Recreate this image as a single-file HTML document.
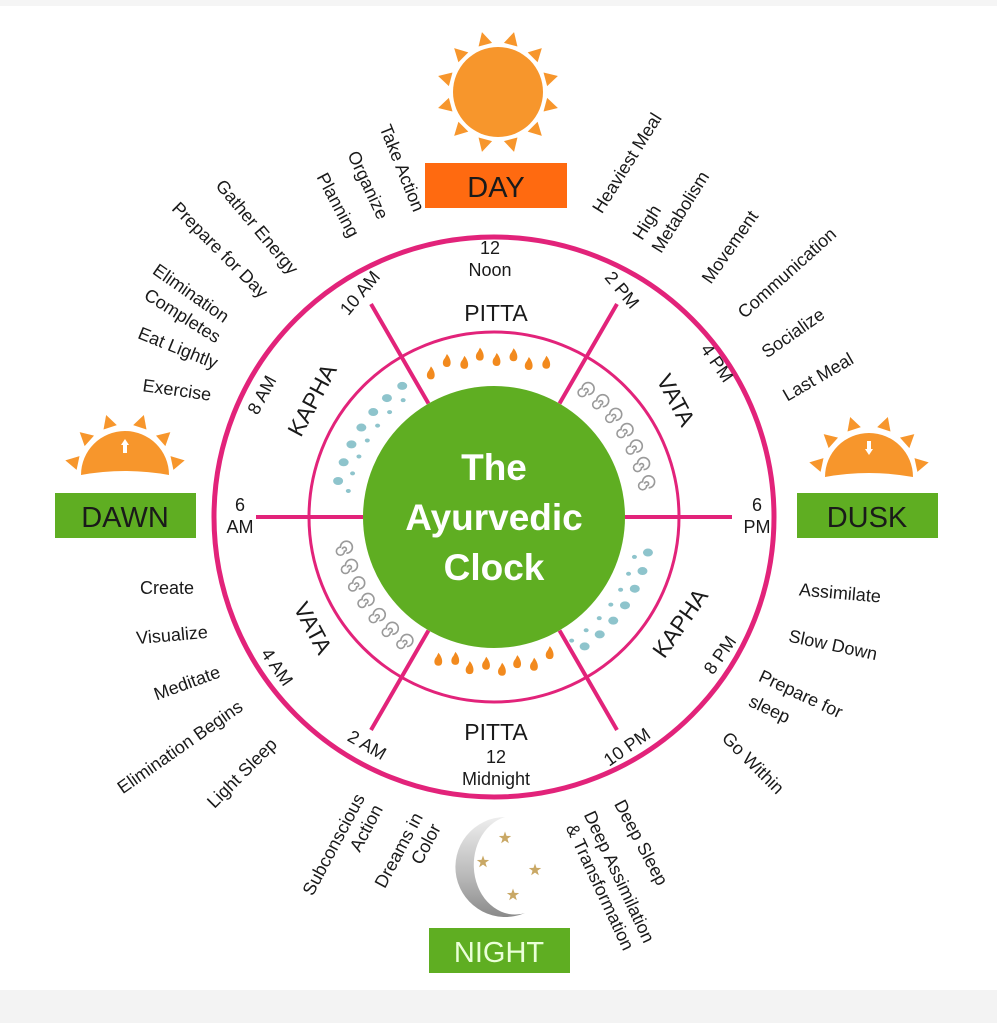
<!DOCTYPE html>
<html><head><meta charset="utf-8"><style>
html,body{margin:0;padding:0;background:#fff;}
svg{display:block;}
text{font-family:"Liberation Sans",sans-serif;fill:#1a1a1a;}
</style></head><body>
<svg id="s" width="997" height="1023" viewBox="0 0 997 1023" xmlns="http://www.w3.org/2000/svg">
<rect x="0" y="0" width="997" height="1023" fill="#fff"/>
<rect x="0" y="0" width="997" height="6" fill="#f5f5f5"/>
<rect x="0" y="990" width="997" height="33" fill="#f3f3f3"/>
<g id="icons"></g>
<circle cx="494" cy="517" r="280" fill="none" stroke="#e2237a" stroke-width="5"/>
<circle cx="494" cy="517" r="185" fill="none" stroke="#e2237a" stroke-width="3"/>
<g id="spokes" stroke="#e2237a" stroke-width="4"></g>
<circle cx="494" cy="517" r="131" fill="#5fae22"/>
<text x="494" y="480" text-anchor="middle" font-size="37" font-weight="bold" style="fill:#fff">The</text>
<text x="494" y="530" text-anchor="middle" font-size="37" font-weight="bold" style="fill:#fff">Ayurvedic</text>
<text x="494" y="580" text-anchor="middle" font-size="37" font-weight="bold" style="fill:#fff">Clock</text>

<rect x="425" y="163" width="142" height="45" fill="#ff6a10"/>
<text x="496" y="197" text-anchor="middle" font-size="29">DAY</text>
<rect x="55" y="493" width="141" height="45" fill="#5fae22"/>
<text x="125" y="527" text-anchor="middle" font-size="29">DAWN</text>
<rect x="797" y="493" width="141" height="45" fill="#5fae22"/>
<text x="867" y="527" text-anchor="middle" font-size="29">DUSK</text>
<rect x="429" y="928" width="141" height="45" fill="#5fae22"/>
<text x="499" y="962" text-anchor="middle" font-size="29" style="fill:#eaffd8">NIGHT</text>

<g id="labels" font-size="18"></g>
</svg>
<script>
var NS="http://www.w3.org/2000/svg",cx=494,cy=517;
function el(t,a,p){var e=document.createElementNS(NS,t);for(var k in a)e.setAttribute(k,a[k]);(p||document.getElementById('icons')).appendChild(e);return e;}
var sp=document.getElementById('spokes');
[[30,131,246],[150,131,246],[210,131,246],[330,131,246],[90,131,238],[270,131,238]].forEach(function(s){
 var a=s[0]*Math.PI/180,sx=Math.sin(a),cy_=-Math.cos(a);
 el('line',{x1:cx+sx*s[1],y1:cy+cy_*s[1],x2:cx+sx*s[2],y2:cy+cy_*s[2]},sp);});
function rays(x,y,r,angs){angs.forEach(function(d){var a=d*Math.PI/180,s=Math.sin(a),c=-Math.cos(a),px=-c,py=s;
 var b1=r+4,b2=r+17,w=7;
 el('polygon',{points:(x+s*b1+px*w)+','+(y+c*b1+py*w)+' '+(x+s*b1-px*w)+','+(y+c*b1-py*w)+' '+(x+s*b2)+','+(y+c*b2),fill:'#f7962c'});});}
el('circle',{cx:498,cy:92,r:45,fill:'#f7962c'});
var a=[];for(var i=0;i<12;i++)a.push(i*30+15);rays(498,92,45,a);
[[125,475,'up'],[869,477,'down']].forEach(function(h){
 el('path',{d:'M'+(h[0]-44)+','+h[1]+' A44,44 0 0 1 '+(h[0]+44)+','+h[1]+' Q'+h[0]+','+(h[1]-8)+' '+(h[0]-44)+','+h[1]+'Z',fill:'#f7962c'});
 rays(h[0],h[1]-2,44,[-78,-48,-18,18,48,78]);
 if(h[2]=='up'){el('polygon',{points:(h[0]-4)+','+(h[1]-30)+' '+(h[0]+4)+','+(h[1]-30)+' '+h[0]+','+(h[1]-36),fill:'#fff'});el('rect',{x:h[0]-2,y:h[1]-31,width:4,height:9,fill:'#fff'});}
 else{el('rect',{x:h[0]-2,y:h[1]-36,width:4,height:9,fill:'#fff'});el('polygon',{points:(h[0]-4)+','+(h[1]-28)+' '+(h[0]+4)+','+(h[1]-28)+' '+h[0]+','+(h[1]-22),fill:'#fff'});}
});
var g=el('linearGradient',{id:'mg',x1:0,y1:0,x2:0,y2:1});
el('stop',{offset:0,'stop-color':'#eeeeee'},g);el('stop',{offset:0.6,'stop-color':'#b8b8b8'},g);el('stop',{offset:1,'stop-color':'#8a8a8a'},g);
el('path',{d:'M505,817 A50,50 0 1 0 525,913 A40,48 0 1 1 505,817 Z',fill:'url(#mg)'});
[[505,838],[483,862],[535,870],[513,895]].forEach(function(p){
 var pts=[];for(var i=0;i<10;i++){var r=i%2?2.6:6.5,a=i*Math.PI/5;pts.push((p[0]+r*Math.sin(a))+','+(p[1]-r*Math.cos(a)));}
 el('polygon',{points:pts.join(' '),fill:'#c9a865'});});
function flame(x,y){el('path',{d:'M'+x+','+(y-9)+' C'+(x+5)+','+(y-3)+' '+(x+5)+','+(y+4)+' '+x+','+(y+4)+' C'+(x-5)+','+(y+4)+' '+(x-5)+','+(y-2)+' '+(x-2)+','+(y-5)+' Z',fill:'#f28a1e'});}
[-24,-17,-11,-5,1,7,13,19].forEach(function(d,i){var r=158+(i%2?3:-3),a=d*Math.PI/180;flame(cx+r*Math.sin(a),cy-r*Math.cos(a));});
[-22,-15,-9,-3,3,9,15,21].forEach(function(d,i){var r=152+(i%2?3:-3),a=(180+d)*Math.PI/180;flame(cx+r*Math.sin(a),cy-r*Math.cos(a));});
function drop(x,y,s){el('ellipse',{cx:x,cy:y,rx:5*s,ry:4*s,fill:'#8ec4cc'});}
[-35,-42,-49,-56,-63,-70,-77].forEach(function(d,i){var a=d*Math.PI/180,r=160;drop(cx+r*Math.sin(a),cy-r*Math.cos(a),1);
 var r2=148;drop(cx+r2*Math.sin(a-0.05),cy-r2*Math.cos(a-0.05),0.5);});
[145,138,131,124,117,110,103].forEach(function(d,i){var a=d*Math.PI/180,r=158;drop(cx+r*Math.sin(a),cy-r*Math.cos(a),1);
 var r2=146;drop(cx+r2*Math.sin(a+0.05),cy-r2*Math.cos(a+0.05),0.5);});
function swirl(x,y){el('path',{d:'M'+x+','+y+' m0,0 a2,2 0 1 1 2,2 a4,4 0 1 1 -4,-4 a6,6 0 1 1 6,6',fill:'none',stroke:'#9a9a9a','stroke-width':1.6});}
[36,43,50,57,64,71,78].forEach(function(d){var a=d*Math.PI/180,r=155;swirl(cx+r*Math.sin(a)-1,cy-r*Math.cos(a)-1);});
[-102,-109,-116,-123,-130,-137,-144].forEach(function(d){var a=d*Math.PI/180;var r=155;swirl(cx+r*Math.sin(a),cy-r*Math.cos(a));});
var L=document.getElementById('labels');
function t(s,x,y,r,fs,anc){var e=el('text',{x:0,y:0,'text-anchor':anc||'middle','dominant-baseline':'central',transform:'translate('+x+','+y+') rotate('+r+')'},L);if(fs)e.setAttribute('font-size',fs);e.textContent=s;}
[["Take Action",402,168,68],["Organize",368,185,65],["Planning",338,205,62],["Gather Energy",257,227,50],["Prepare for Day",220,250,45],
["Eat Lightly",178,348,22],["Exercise",177,390,8],
["Heaviest Meal",627,163,-58],["Movement",730,247,-55],["Communication",787,273,-42],["Socialize",793,333,-35],["Last Meal",818,377,-30],
["Create",167,588,0],["Visualize",172,635,-5],["Meditate",187,683,-20],["Elimination Begins",180,747,-35],["Light Sleep",242,773,-45],
["Assimilate",840,593,5],["Slow Down",833,645,12],["Go Within",753,763,45],
["12",490,248,0],["Noon",490,270,0],["10 AM",360,293,-50],["2 PM",622,290,50],["8 AM",262,395,-62],["4 PM",717,363,55],
["6",240,505,0],["AM",240,527,0],["6",757,505,0],["PM",757,527,0],
["4 AM",277,667,55],["2 AM",367,745,30],["8 PM",720,655,-55],["10 PM",627,747,-35],
["12",496,757,0],["Midnight",496,779,0]
].forEach(function(a){t(a[0],a[1],a[2],a[3]);});
[["Elimination",155,268,35],["Completes",146,293,32],
["High",637,238,-58],["Metabolism",656,251,-58],
["Prepare for",760,675,25],["sleep",750,700,25],
["Deep Sleep",619,801,62],["Deep Assimilation",589,812,65],["& Transformation",571,825,65]
].forEach(function(a){t(a[0],a[1],a[2],a[3],null,'start');});
[["Subconscious",360,795,-62],["Action",378,806,-62],["Dreams in",418,814,-62],["Color",436,825,-62]
].forEach(function(a){t(a[0],a[1],a[2],a[3],null,'end');});
[["PITTA",496,313,0],["PITTA",496,732,0],["KAPHA",312,400,-62],["VATA",676,400,62],["VATA",313,628,62],["KAPHA",680,623,-55]].forEach(function(a){t(a[0],a[1],a[2],a[3],23);});
</script>
</body></html>
